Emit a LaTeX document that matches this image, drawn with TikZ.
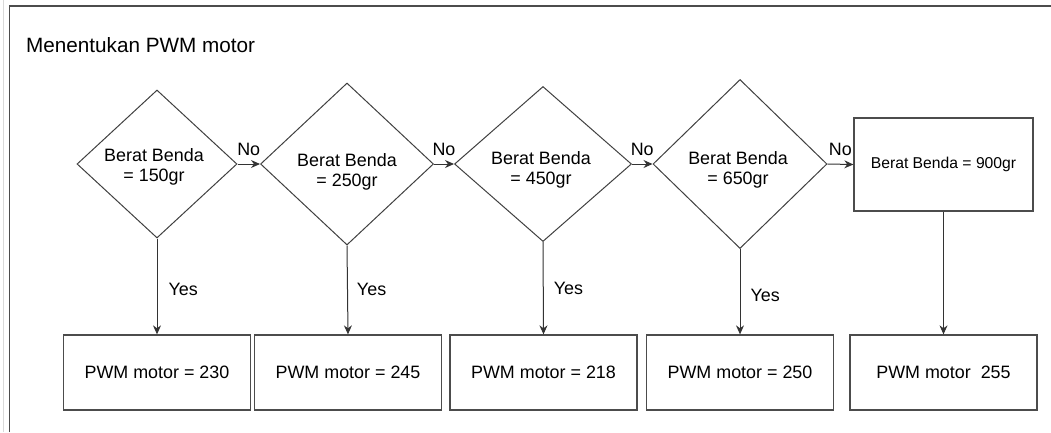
\documentclass[tikz,border=0pt]{standalone}
\usepackage{fontspec}
\setmainfont{Liberation Sans}
\usetikzlibrary{shapes.geometric,arrows.meta}
\begin{document}
\begin{tikzpicture}[x=1pt,y=-1pt,
  every node/.style={font=\fontsize{17.9}{20.5}\selectfont, text=black},
  decision/.style={diamond, draw=black!75, line width=1pt, inner sep=0pt},
  outcome/.style={rectangle, draw=black!70, line width=1.3pt,
    minimum width=187pt, minimum height=75pt, inner sep=0pt},
  flow/.style={draw=black!80, line width=1pt, -{Stealth[length=9pt,width=8pt]}},
  edgelabel/.style={inner sep=0pt},
  inner/.style={align=center, inner sep=0pt}
]
\useasboundingbox (0,0) rectangle (1051,432);

% frame of the sheet
\draw[black!15, line width=1pt] (3,0) -- (3,432);
\draw[black!70, line width=1.5pt] (9.5,432) -- (9.5,6) -- (1051,6);

% title
\node[anchor=base west, inner sep=0pt, font=\fontsize{20.7}{24}\selectfont]
  (title) at (26,52) {Menentukan PWM motor};

% decisions
\node[decision, minimum width=160pt, minimum height=148pt,
  label={[inner, xshift=-3pt, yshift=-3pt]center:{Berat Benda\\= 150gr}}]
  (d1) at (157,164) {};
\node[decision, minimum width=173pt, minimum height=162pt,
  label={[inner, yshift=-8pt]center:{Berat Benda\\= 250gr}}]
  (d2) at (347,164) {};
\node[decision, minimum width=177pt, minimum height=155pt,
  label={[inner, xshift=-2pt, yshift=-6pt]center:{Berat Benda\\= 450gr}}]
  (d3) at (543,164) {};
\node[decision, minimum width=174pt, minimum height=169pt,
  label={[inner, xshift=-2pt, yshift=-6pt]center:{Berat Benda\\= 650gr}}]
  (d4) at (740,164) {};
\node[rectangle, draw=black!70, line width=1.3pt, minimum width=179pt,
  minimum height=93pt, inner sep=0pt, font=\fontsize{15.7}{18}\selectfont]
  (c5) at (943.5,164.5) {Berat Benda = 900gr};

% outcomes
\node[outcome] (b1) at (157,372.5) {PWM motor = 230};
\node[outcome] (b2) at (348,372.5) {PWM motor = 245};
\node[outcome] (b3) at (543.5,372.5) {PWM motor = 218};
\node[outcome] (b4) at (740,372.5) {PWM motor = 250};
\node[outcome] (b5) at (943.5,372.5) {PWM motor\ \ 255};

% "No" branches
\draw[flow] (d1.east) -- node[edgelabel, above=8pt] {No} (d2.west);
\draw[flow] (d2.east) -- node[edgelabel, above=8pt] {No} (d3.west);
\draw[flow] (d3.east) -- node[edgelabel, above=8pt] {No} (d4.west);
\draw[flow] (d4.east) -- node[edgelabel, above=8pt] {No} (c5.west);

% "Yes" branches
\draw[flow] (d1.south) -- node[edgelabel, pos=0.535, anchor=west, xshift=11pt] {Yes} (b1.north);
\draw[flow] (d2.south) -- node[edgelabel, pos=0.49, anchor=west, xshift=9pt] {Yes} (b2.north);
\draw[flow] (d3.south) -- node[edgelabel, pos=0.505, anchor=west, xshift=10pt] {Yes} (b3.north);
\draw[flow] (d4.south) -- node[edgelabel, pos=0.54, anchor=west, xshift=10pt] {Yes} (b4.north);
\draw[flow] (c5.south) -- (b5.north);
\end{tikzpicture}
\end{document}
